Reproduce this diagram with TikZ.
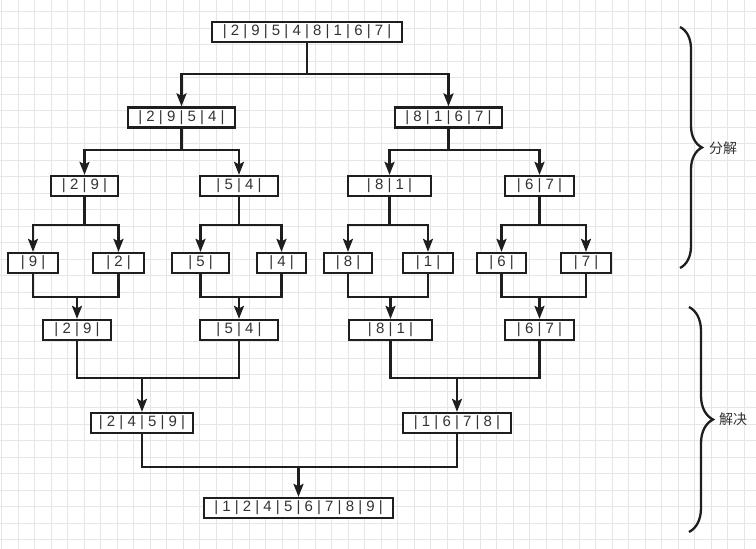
\documentclass[tikz,border=0pt]{standalone}
\usepackage{fontspec}
\setmainfont{Liberation Sans}
\newfontfamily\cjkfont{Noto Sans CJK SC}
\usetikzlibrary{arrows.meta, decorations.pathreplacing}
\definecolor{msLine}{HTML}{1E1E1E}
\definecolor{msText}{HTML}{333333}
\definecolor{msGrid}{HTML}{E6E6E6}
\tikzset{
  ms/.style={x=1pt, y=-1pt, font=\fontsize{15}{17}\selectfont},
  box/.style={draw=msLine, line width=2.3pt, fill=white, text=msText, minimum height=20pt, inner sep=0pt},
  link/.style={draw=msLine, line width=2.3pt},
  arr/.style={link, -{Stealth[length=13pt, width=10pt, inset=2.5pt]}},
  gridline/.style={msGrid, line width=1pt},
  bracket/.style={decorate, decoration={brace, amplitude=#1}, draw=msLine, line width=2.3pt},
  note/.style={font=\cjkfont\fontsize{14}{16}\selectfont, text=msText, anchor=west, inner sep=0pt},
}

\begin{document}
\begin{tikzpicture}[
  ms,
]
\useasboundingbox (0,0) rectangle (756,549);
% background grid
\fill[white] (0,0) rectangle (756,549);
\foreach \gx in {0,...,45} \draw[gridline] ({1.8+16.5*\gx},0) -- ({1.8+16.5*\gx},549);
\foreach \gy in {0,...,32} \draw[gridline] (0,{11.7+16.5*\gy}) -- (756,{11.7+16.5*\gy});

% split
\node[box, minimum width=190] (all) at (307,32) {| 2 | 9 | 5 | 4 | 8 | 1 | 6 | 7 |};
\node[box, minimum width=107] (lft) at (181.5,117.5) {| 2 | 9 | 5 | 4 |};
\node[box, minimum width=107] (rgt) at (448.5,117.5) {| 8 | 1 | 6 | 7 |};

\node[box, minimum width=67] (s29) at (84.5,186) {| 2 | 9 |};
\node[box, minimum width=78] (s54) at (239,186) {| 5 | 4 |};
\node[box, minimum width=83] (s81) at (389.5,186) {| 8 | 1 |};
\node[box, minimum width=69] (s67) at (539.5,186) {| 6 | 7 |};

\node[box, minimum width=50] (x9) at (33,263) {| 9 |};
\node[box, minimum width=51] (x2) at (118.5,263) {| 2 |};
\node[box, minimum width=57] (x5) at (200.5,263) {| 5 |};
\node[box, minimum width=49] (x4) at (281.5,263) {| 4 |};
\node[box, minimum width=48] (x8) at (348,263) {| 8 |};
\node[box, minimum width=50] (x1) at (428,263) {| 1 |};
\node[box, minimum width=49] (x6) at (501.5,263) {| 6 |};
\node[box, minimum width=50] (x7) at (586,263) {| 7 |};

\coordinate (j0) at (307,74);
\coordinate (j1) at (181.5,150);
\coordinate (j2) at (448.5,150);
\coordinate (j3) at (84.5,225);
\coordinate (j4) at (239,225);
\coordinate (j5) at (389.5,225);
\coordinate (j6) at (539.5,225);

\draw[link] (all.south) -- (j0);
\draw[arr] (j0) -| (lft.north);
\draw[arr] (j0) -| (rgt.north);
\draw[link] (lft.south) -- (j1);
\draw[arr] (j1) -| (s29.north);
\draw[arr] (j1) -| (s54.north);
\draw[link] (rgt.south) -- (j2);
\draw[arr] (j2) -| (s81.north);
\draw[arr] (j2) -| (s67.north);
\draw[link] (s29.south) -- (j3);
\draw[arr] (j3) -| (x9.north);
\draw[arr] (j3) -| (x2.north);
\draw[link] (s54.south) -- (j4);
\draw[arr] (j4) -| (x5.north);
\draw[arr] (j4) -| (x4.north);
\draw[link] (s81.south) -- (j5);
\draw[arr] (j5) -| (x8.north);
\draw[arr] (j5) -| (x1.north);
\draw[link] (s67.south) -- (j6);
\draw[arr] (j6) -| (x6.north);
\draw[arr] (j6) -| (x7.north);

% merge
\node[box, minimum width=68] (m29) at (77,330) {| 2 | 9 |};
\node[box, minimum width=78] (m54) at (239,330) {| 5 | 4 |};
\node[box, minimum width=83] (m81) at (390.5,330) {| 8 | 1 |};
\node[box, minimum width=69] (m67) at (539.5,330) {| 6 | 7 |};

\node[box, minimum width=102] (h1) at (142,423) {| 2 | 4 | 5 | 9 |};
\node[box, minimum width=108] (h2) at (457,423) {| 1 | 6 | 7 | 8 |};

\node[box, minimum width=189] (fin) at (298.5,508) {| 1 | 2 | 4 | 5 | 6 | 7 | 8 | 9 |};

\coordinate (k1) at (77,297);
\coordinate (k2) at (239,297);
\coordinate (k3) at (390.5,297);
\coordinate (k4) at (539.5,297);
\coordinate (k5) at (142,378);
\coordinate (k6) at (457,378);
\coordinate (k7) at (298.5,467);

\draw[link] (x9.south) |- (k1) -| (x2.south);
\draw[arr] (k1) -- (m29.north);
\draw[link] (x5.south) |- (k2) -| (x4.south);
\draw[arr] (k2) -- (m54.north);
\draw[link] (x8.south) |- (k3) -| (x1.south);
\draw[arr] (k3) -- (m81.north);
\draw[link] (x6.south) |- (k4) -| (x7.south);
\draw[arr] (k4) -- (m67.north);
\draw[link] (m29.south) |- (k5) -| (m54.south);
\draw[arr] (k5) -- (h1.north);
\draw[link] (m81.south) |- (k6) -| (m67.south);
\draw[arr] (k6) -- (h2.north);
\draw[link] (h1.south) |- (k7) -| (h2.south);
\draw[arr] (k7) -- (fin.north);

% braces
\draw[bracket=22] (680,27) -- (680,268);
\node[note] (split) at (709,148) {分解};
\draw[bracket=24] (689,307) -- (689,532);
\node[note] (solve) at (719,419) {解决};
\end{tikzpicture}
\end{document}
